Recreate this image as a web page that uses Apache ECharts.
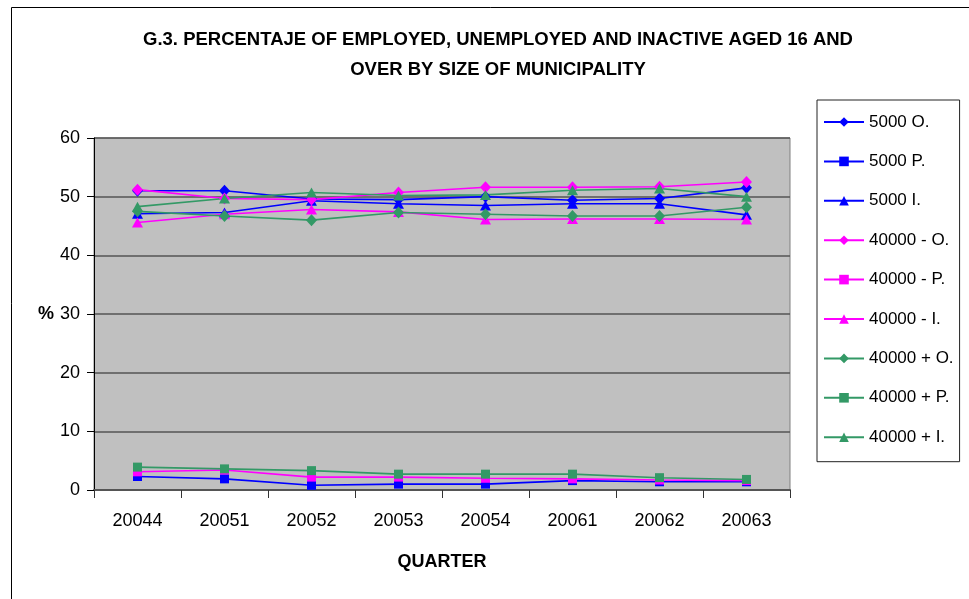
<!DOCTYPE html>
<html>
<head>
<meta charset="utf-8">
<title>G.3</title>
<script src="https://cdn.jsdelivr.net/npm/echarts@6/dist/echarts.min.js"></script>
<style>
  html, body { margin: 0; padding: 0; background: #fff; }
  #chart { width: 969px; height: 599px; }
</style>
</head>
<body>
<div id="chart"></div>
<script>
const quarters = ["20044", "20051", "20052", "20053", "20054", "20061", "20062", "20063"];

// municipalities under 5000
const small_O = [51.0, 51.0, 49.6, 49.5, 50.0, 49.4, 49.7, 51.5];
const small_P = [2.3, 1.9, 0.8, 1.0, 1.0, 1.6, 1.4, 1.4];
const small_I = [47.1, 47.3, 49.3, 48.8, 48.5, 48.8, 48.8, 46.9];

// 5000 - 40000
const mid_O = [51.2, 49.7, 49.5, 50.7, 51.6, 51.6, 51.7, 52.5];
const mid_P = [3.1, 3.4, 2.2, 2.2, 2.0, 1.9, 1.7, 1.6];
const mid_I = [45.6, 47.0, 47.8, 47.4, 46.1, 46.2, 46.2, 46.1];

// over 40000
const big_O = [47.5, 46.7, 46.0, 47.3, 47.0, 46.7, 46.7, 48.2];
const big_P = [3.9, 3.6, 3.3, 2.7, 2.7, 2.7, 2.1, 1.8];
const big_I = [48.3, 49.7, 50.7, 50.2, 50.3, 51.1, 51.4, 50.0];

const yTicks = { min: 0, max: 60, step: 10 };

const BLUE = "#0000FF";
const PINK = "#FF00FF";
const GREEN = "#339966";
const FONT = "'Liberation Sans', Arial, sans-serif";

const mkSeries = (name, data, color, symbol) => {
  let size = 9;
  if (symbol === "diamond") size = [11, 12];
  if (symbol === "triangle") size = [11, 10];
  return {
    name: name,
    type: "line",
    data: data,
    symbol: symbol,
    symbolSize: size,
    lineStyle: { color: color, width: 1.6 },
    itemStyle: { color: color },
  };
};

const seriesList = [
  mkSeries("5000 O.", small_O, BLUE, "diamond"),
  mkSeries("5000 P.", small_P, BLUE, "rect"),
  mkSeries("5000 I.", small_I, BLUE, "triangle"),
  mkSeries("40000 - O.", mid_O, PINK, "diamond"),
  mkSeries("40000 - P.", mid_P, PINK, "rect"),
  mkSeries("40000 - I.", mid_I, PINK, "triangle"),
  mkSeries("40000 + O.", big_O, GREEN, "diamond"),
  mkSeries("40000 + P.", big_P, GREEN, "rect"),
  mkSeries("40000 + I.", big_I, GREEN, "triangle"),
];

const chart = echarts.init(document.getElementById("chart"));

const options = {
  animation: false,
  backgroundColor: "#fff",
  textStyle: { fontFamily: FONT },
  title: {
    text: "G.3. PERCENTAJE OF EMPLOYED, UNEMPLOYED AND INACTIVE AGED 16 AND\nOVER BY SIZE OF MUNICIPALITY",
    left: 498,
    top: 25,
    padding: 0,
    textAlign: "center",
    textStyle: {
      fontFamily: FONT,
      fontSize: 18.5,
      fontWeight: "bold",
      color: "#000",
      lineHeight: 30,
    },
  },
  graphic: [
    {
      type: "rect",
      shape: { x: 11.5, y: 7.5, width: 1000, height: 1000 },
      style: { fill: "none", stroke: "#000", lineWidth: 1 },
      silent: true,
    },
  ],
  legend: {
    orient: "vertical",
    left: 817,
    top: 100,
    padding: [13.5, 6, 16, 6],
    itemWidth: 40,
    itemHeight: 12,
    itemGap: 22.4,
    borderColor: "#222",
    borderWidth: 1,
    textStyle: { fontFamily: FONT, fontSize: 17, color: "#000" },
    data: seriesList.map((s) => s.name),
  },
  grid: {
    left: 94,
    top: 138,
    width: 696,
    height: 352,
    show: true,
    backgroundColor: "#C0C0C0",
    borderColor: "#808080",
    borderWidth: 1,
    containLabel: false,
  },
  xAxis: {
    type: "category",
    data: quarters,
    boundaryGap: true,
    name: "QUARTER",
    nameLocation: "middle",
    nameGap: 63,
    nameTextStyle: { fontFamily: FONT, fontSize: 18, fontWeight: "bold", color: "#000" },
    axisLine: { lineStyle: { color: "#555", width: 2 } },
    axisTick: { show: true, length: 8, lineStyle: { color: "#333" } },
    axisLabel: { margin: 22, fontFamily: FONT, fontSize: 18, color: "#000" },
    splitLine: { show: false },
  },
  yAxis: {
    type: "value",
    min: yTicks.min,
    max: yTicks.max,
    interval: yTicks.step,
    name: "%",
    nameLocation: "middle",
    nameRotate: 0,
    nameGap: 39,
    nameTextStyle: { fontFamily: FONT, fontSize: 18, fontWeight: "bold", color: "#000" },
    axisLine: { show: true, lineStyle: { color: "#000", width: 1 } },
    axisTick: { show: true, length: 7, lineStyle: { color: "#000" } },
    axisLabel: { margin: 14, fontFamily: FONT, fontSize: 18, color: "#000" },
    splitLine: { show: true, lineStyle: { color: "#555", width: 1.5 } },
  },
  series: seriesList,
};

chart.setOption(options);
</script>
</body>
</html>
